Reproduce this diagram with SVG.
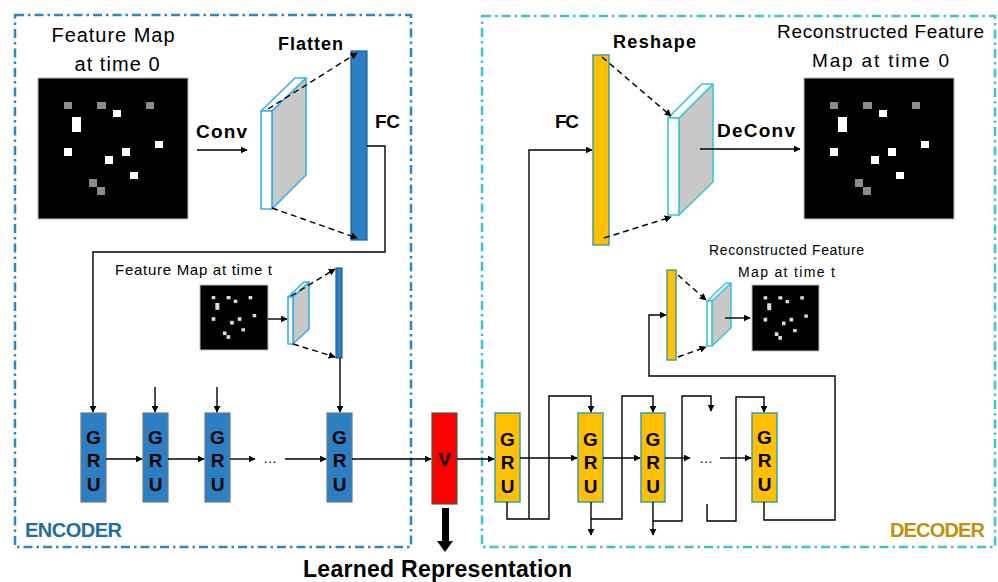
<svg xmlns="http://www.w3.org/2000/svg" xmlns:xlink="http://www.w3.org/1999/xlink" width="998" height="582" viewBox="0 0 998 582">
  <style>
    .t { font-family: "Liberation Sans", Arial, sans-serif; fill: #000; }
    .b { font-family: "Liberation Sans", Arial, sans-serif; font-weight: bold; fill: #000; }
    .gru { font-family: "Liberation Sans", Arial, sans-serif; font-weight: bold; font-size: 19px; text-anchor: middle; fill: #000; }
    .enc-box { fill: none; stroke: #2F87BE; stroke-width: 2.5; stroke-dasharray: 9 4 2.5 4; }
    .dec-box { fill: none; stroke: #3CC3CB; stroke-width: 2.5; stroke-dasharray: 9 4 2.5 4; }
    .egru { fill: #2B7FC2; stroke: #6B7B88; stroke-width: 1.2; }
    .dgru { fill: #FFC000; stroke: #3A9FA6; stroke-width: 1.5; }
    .efc { fill: #2B7FC2; stroke: #1E5F8E; stroke-width: 1.2; }
    .dfc { fill: #FFC000; stroke: #4E9C98; stroke-width: 1.5; }
    .eslab { stroke: #3BAEE6; stroke-width: 1.6; stroke-linejoin: round; }
    .dslab { stroke: #3EC6CF; stroke-width: 1.6; stroke-linejoin: round; }
    .front { fill: #fff; }
    .side { fill: #C8C8C8; }
    .map { fill: #000; stroke: #BDBDBD; stroke-width: 1; }
    .c { fill: none; stroke: #000; stroke-width: 1.4; }
    .dash { fill: none; stroke: #000; stroke-width: 1.4; stroke-dasharray: 6 4; }
  </style>
  <defs>
    <marker id="ah" viewBox="0 0 10 10" refX="9" refY="5" markerWidth="7" markerHeight="7" orient="auto" markerUnits="userSpaceOnUse">
      <path d="M0,0 L10,5 L0,10 z" fill="#000"/>
    </marker>
    <!-- feature map cells, relative to the map's top-left corner (150 x 141 map) -->
    <g id="cells-gray">
      <rect x="26" y="24" width="8" height="7"/>
      <rect x="59" y="24" width="9" height="7"/>
      <rect x="108" y="24" width="8" height="7"/>
      <rect x="51" y="101" width="8" height="8"/>
      <rect x="59" y="109" width="8" height="8"/>
    </g>
    <g id="cells-white">
      <rect x="75" y="32" width="8" height="7"/>
      <rect x="34" y="39" width="9" height="15"/>
      <rect x="26" y="70" width="8" height="8"/>
      <rect x="84" y="70" width="8" height="8"/>
      <rect x="117" y="63" width="8" height="7"/>
      <rect x="67" y="78" width="8" height="8"/>
      <rect x="92" y="94" width="8" height="7"/>
    </g>
  </defs>

  <!-- section frames -->
  <rect class="enc-box" x="15" y="15" width="396" height="532"/>
  <rect class="dec-box" x="482" y="16" width="513" height="531"/>

  <!-- ================= ENCODER ================= -->
  <g id="map0">
    <text class="t" x="113" y="42" font-size="20" text-anchor="middle" textLength="123">Feature Map</text>
    <text class="t" x="117" y="71" font-size="20" text-anchor="middle" textLength="85">at time 0</text>
    <rect class="map" x="38" y="78" width="150" height="141"/>
    <use href="#cells-gray" transform="translate(38,78)" fill="#8C8C8C"/>
    <use href="#cells-white" transform="translate(38,78)" fill="#fff"/>
  </g>

  <g id="conv-label">
    <text class="b" x="196" y="138" font-size="19" textLength="51">Conv</text>
  </g>

  <g id="enc-slab">
    <polygon class="eslab side" points="272,111 306,78 306,175 272,209"/>
    <polygon class="eslab front" points="261,111 272,111 306,78 295,78"/>
    <rect class="eslab front" x="261" y="111" width="11" height="98"/>
  </g>

  <g id="enc-fc">
    <text class="b" x="278" y="50" font-size="18" textLength="65">Flatten</text>
    <rect class="efc" x="351" y="51" width="16" height="189"/>
    <text class="b" x="375" y="128" font-size="19" textLength="25">FC</text>
  </g>

  <g id="mapt">
    <text class="t" x="115" y="275" font-size="15" textLength="157">Feature Map at time t</text>
    <rect class="map" x="200" y="285" width="68" height="65"/>
    <g transform="translate(200,285) scale(0.45,0.46)" fill="#DCDCDC">
      <use href="#cells-gray"/>
      <use href="#cells-white"/>
    </g>
  </g>

  <g id="enc-slab-t">
    <polygon class="eslab side" points="293,297 309,282 309,329 293,344"/>
    <polygon class="eslab front" points="288,297 293,297 309,282 304,282"/>
    <rect class="eslab front" x="288" y="297" width="5" height="47"/>
  </g>

  <g id="enc-fc-t">
    <rect class="efc" x="336" y="268" width="6" height="90"/>
  </g>

  <g id="egru1">
    <rect class="egru" x="81" y="413" width="25" height="89"/>
    <text class="gru" x="93.5" y="444">G</text>
    <text class="gru" x="93.5" y="467">R</text>
    <text class="gru" x="93.5" y="491">U</text>
  </g>
  <g id="egru2">
    <rect class="egru" x="143" y="413" width="25" height="89"/>
    <text class="gru" x="155.5" y="444">G</text>
    <text class="gru" x="155.5" y="467">R</text>
    <text class="gru" x="155.5" y="491">U</text>
  </g>
  <g id="egru3">
    <rect class="egru" x="205" y="413" width="25" height="89"/>
    <text class="gru" x="217.5" y="444">G</text>
    <text class="gru" x="217.5" y="467">R</text>
    <text class="gru" x="217.5" y="491">U</text>
  </g>
  <g id="egru4">
    <rect class="egru" x="327" y="413" width="25" height="89"/>
    <text class="gru" x="339.5" y="444">G</text>
    <text class="gru" x="339.5" y="467">R</text>
    <text class="gru" x="339.5" y="491">U</text>
  </g>

  <g id="enc-title">
    <text class="b" x="25" y="537" font-size="20" style="fill:#1F6E9E" textLength="97">ENCODER</text>
  </g>

  <!-- ================= LATENT ================= -->
  <g id="latent">
    <rect x="432" y="413" width="25" height="91" fill="#FF0000" stroke="#4A5A4A" stroke-width="1.2"/>
    <text class="gru" x="444.5" y="466">V</text>
    <rect x="442" y="508" width="7" height="35" fill="#000"/>
    <polygon points="437,541 453,541 445,552" fill="#000"/>
    <text class="b" x="303" y="577" font-size="23" textLength="269">Learned Representation</text>
  </g>

  <!-- ================= DECODER ================= -->
  <g id="dec-fc">
    <text class="b" x="555" y="128" font-size="19" textLength="24">FC</text>
    <rect class="dfc" x="593" y="55" width="16" height="190"/>
    <text class="b" x="613" y="48" font-size="18" textLength="83">Reshape</text>
  </g>

  <g id="dec-slab">
    <polygon class="dslab side" points="679,118 713,84 713,182 679,215"/>
    <polygon class="dslab front" points="668,118 679,118 713,84 702,84"/>
    <rect class="dslab front" x="668" y="118" width="11" height="97"/>
  </g>

  <g id="deconv-label">
    <text class="b" x="717" y="137" font-size="19" textLength="78">DeConv</text>
  </g>

  <g id="recon0">
    <text class="t" x="777" y="38" font-size="19" textLength="207">Reconstructed Feature</text>
    <text class="t" x="812" y="67" font-size="19" textLength="137">Map at time 0</text>
    <rect class="map" x="804" y="78" width="150" height="141"/>
    <use href="#cells-gray" transform="translate(804,78)" fill="#8C8C8C"/>
    <use href="#cells-white" transform="translate(804,78)" fill="#fff"/>
  </g>

  <g id="dec-fc-t">
    <rect class="dfc" x="667" y="270" width="9" height="90"/>
  </g>

  <g id="dec-slab-t">
    <polygon class="dslab side" points="712,301 731,283 731,328 712,346"/>
    <polygon class="dslab front" points="707,301 712,301 731,283 726,283"/>
    <rect class="dslab front" x="707" y="301" width="5" height="45"/>
  </g>

  <g id="recont">
    <text class="t" x="709" y="255" font-size="14" textLength="155">Reconstructed Feature</text>
    <text class="t" x="738" y="277" font-size="14" textLength="97">Map at time t</text>
    <rect class="map" x="752" y="285" width="67" height="66"/>
    <g transform="translate(752,285) scale(0.447,0.468)" fill="#DCDCDC">
      <use href="#cells-gray"/>
      <use href="#cells-white"/>
    </g>
  </g>

  <g id="dgru1">
    <rect class="dgru" x="495" y="413" width="25" height="89"/>
    <text class="gru" x="507.5" y="446">G</text>
    <text class="gru" x="507.5" y="469">R</text>
    <text class="gru" x="507.5" y="493">U</text>
  </g>
  <g id="dgru2">
    <rect class="dgru" x="578" y="413" width="25" height="89"/>
    <text class="gru" x="590.5" y="446">G</text>
    <text class="gru" x="590.5" y="469">R</text>
    <text class="gru" x="590.5" y="493">U</text>
  </g>
  <g id="dgru3">
    <rect class="dgru" x="641" y="413" width="24" height="89"/>
    <text class="gru" x="653" y="446">G</text>
    <text class="gru" x="653" y="469">R</text>
    <text class="gru" x="653" y="493">U</text>
  </g>
  <g id="dgru4">
    <rect class="dgru" x="752" y="413" width="25" height="89"/>
    <text class="gru" x="764.5" y="444">G</text>
    <text class="gru" x="764.5" y="467">R</text>
    <text class="gru" x="764.5" y="491">U</text>
  </g>

  <g id="dec-title">
    <text class="b" x="890" y="537" font-size="20" style="fill:#BF900A" textLength="95">DECODER</text>
  </g>

  <!-- ================= CONNECTORS ================= -->
  <g id="connectors">
    <!-- encoder, time 0 -->
    <path class="c" d="M197,150 H247" marker-end="url(#ah)"/>
    <path class="dash" d="M268,109 L357,53" marker-end="url(#ah)"/>
    <path class="dash" d="M272,208 L357,238" marker-end="url(#ah)"/>
    <path class="c" d="M367,146 H385 V252 H93 V412" marker-end="url(#ah)"/>
    <!-- encoder, time t -->
    <path class="c" d="M268,319 H287" marker-end="url(#ah)"/>
    <path class="dash" d="M291,296 L335,269" marker-end="url(#ah)"/>
    <path class="dash" d="M293,344 L335,357" marker-end="url(#ah)"/>
    <path class="c" d="M340,358 V412" marker-end="url(#ah)"/>
    <!-- encoder GRU inputs and chain -->
    <path class="c" d="M155,387 V412" marker-end="url(#ah)"/>
    <path class="c" d="M217,387 V412" marker-end="url(#ah)"/>
    <path class="c" d="M106,459 H142" marker-end="url(#ah)"/>
    <path class="c" d="M168,459 H204" marker-end="url(#ah)"/>
    <path class="c" d="M230,459 H255" marker-end="url(#ah)"/>
    <path class="c" d="M285,459 H326" marker-end="url(#ah)"/>
    <path class="c" d="M352,459 H431" marker-end="url(#ah)"/>
    <!-- latent to decoder -->
    <path class="c" d="M457,459 H494" marker-end="url(#ah)"/>
    <!-- decoder chain -->
    <path class="c" d="M520,458 H577" marker-end="url(#ah)"/>
    <path class="c" d="M603,458 H640" marker-end="url(#ah)"/>
    <path class="c" d="M665,458 H690" marker-end="url(#ah)"/>
    <path class="c" d="M720,458 H751" marker-end="url(#ah)"/>
    <!-- decoder feedback loops -->
    <path class="c" d="M529,519 V150 H592" marker-end="url(#ah)"/>
    <path class="c" d="M507,502 V519 H549 V396 H591 V412" marker-end="url(#ah)"/>
    <path class="c" d="M591,502 V535" marker-end="url(#ah)"/>
    <path class="c" d="M591,519 H622 V396 H653 V412" marker-end="url(#ah)"/>
    <path class="c" d="M653,502 V535" marker-end="url(#ah)"/>
    <path class="c" d="M653,521 H682 V396 H711 V411" marker-end="url(#ah)"/>
    <path class="c" d="M707,504 V521 H736 V397 H764 V412" marker-end="url(#ah)"/>
    <path class="c" d="M764,502 V520 H835 V376 H649 V315 H666" marker-end="url(#ah)"/>
    <!-- decoder reconstruction -->
    <path class="dash" d="M602,57 L671,116" marker-end="url(#ah)"/>
    <path class="dash" d="M604,238 L671,217" marker-end="url(#ah)"/>
    <path class="c" d="M700,149 H800" marker-end="url(#ah)"/>
    <path class="dash" d="M678,275 L706,300" marker-end="url(#ah)"/>
    <path class="dash" d="M678,357 L706,347" marker-end="url(#ah)"/>
    <path class="c" d="M725,318 H750" marker-end="url(#ah)"/>
  </g>

  <!-- ellipses in the recurrent chains -->
  <text class="t" x="270" y="463" font-size="14" text-anchor="middle">…</text>
  <text class="t" x="706" y="463" font-size="14" text-anchor="middle">…</text>
</svg>
